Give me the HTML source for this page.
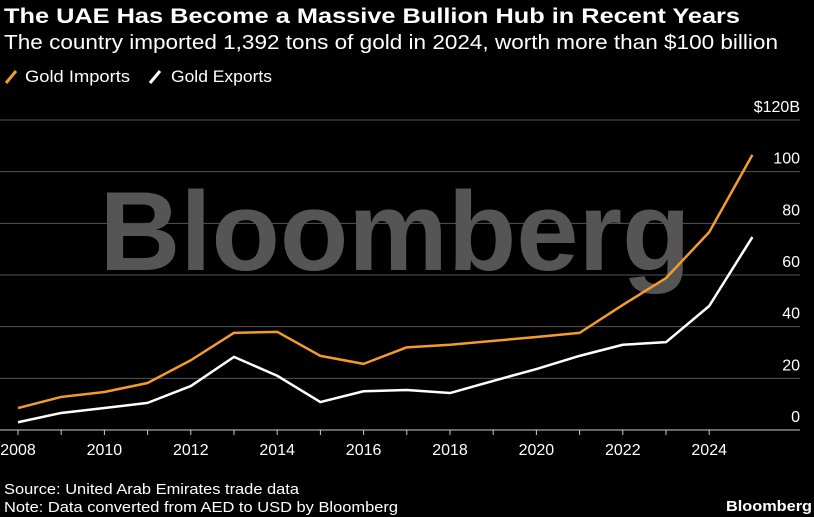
<!DOCTYPE html>
<html><head><meta charset="utf-8">
<style>
body{margin:0;background:#000;width:814px;height:517px;overflow:hidden;font-family:"Liberation Sans",sans-serif;color:#fff}
svg{position:absolute;left:0;top:0}
</style></head>
<body>
<svg width="814" height="517" id="svg">
<text x="4" y="23" font-size="21" font-weight="bold" fill="#fff" textLength="736" lengthAdjust="spacingAndGlyphs">The UAE Has Become a Massive Bullion Hub in Recent Years</text>
<text x="4" y="49" font-size="20" fill="#fff" textLength="774" lengthAdjust="spacingAndGlyphs">The country imported 1,392 tons of gold in 2024, worth more than $100 billion</text>
<g>
<line x1="6" y1="83" x2="16" y2="71" stroke="#f39c2b" stroke-width="3"/>
<text x="25" y="82" font-size="17" fill="#fff" textLength="105" lengthAdjust="spacingAndGlyphs">Gold Imports</text>
<line x1="150" y1="83" x2="160" y2="71" stroke="#fff" stroke-width="3"/>
<text x="171" y="82" font-size="17" fill="#fff" textLength="101" lengthAdjust="spacingAndGlyphs">Gold Exports</text>
</g>
<text x="395" y="270" font-size="112" font-weight="bold" fill="#555" text-anchor="middle">Bloomberg</text>
<g id="grid"></g><g id="xaxis"></g><g id="lines"></g>
<text x="4" y="494" font-size="15" fill="#fff" textLength="295" lengthAdjust="spacingAndGlyphs">Source: United Arab Emirates trade data</text>
<text x="4" y="512" font-size="15" fill="#fff" textLength="394" lengthAdjust="spacingAndGlyphs">Note: Data converted from AED to USD by Bloomberg</text>
<text x="812" y="511" font-size="15" font-weight="bold" fill="#fff" text-anchor="end" textLength="86" lengthAdjust="spacingAndGlyphs">Bloomberg</text>
</svg>
<script>
const years=[2008,2009,2010,2011,2012,2013,2014,2015,2016,2017,2018,2019,2020,2021,2022,2023,2024,2025];
const imports=[8.5,12.8,14.7,18.2,27,37.6,38,28.7,25.6,32,33,34.5,36,37.6,48.4,58.8,76.6,106.5];
const exportsV=[3,6.6,8.5,10.5,17,28.3,21,10.8,15,15.5,14.3,19,23.6,28.7,33,34,48,74.7];
const yTicks=[0,20,40,60,80,100,120];
const xTicks=[2008,2010,2012,2014,2016,2018,2020,2022,2024];
const NS="http://www.w3.org/2000/svg";
const X=y=>18+(y-2008)*43.2;
const Y=v=>430-v*(310/120);
function mk(t,a,p){const e=document.createElementNS(NS,t);for(const k in a)e.setAttribute(k,a[k]);p.appendChild(e);return e;}
const grid=document.getElementById('grid');
yTicks.forEach(v=>{
 const l=mk('line',{x1:0,x2:800,y1:Y(v),y2:Y(v),stroke:v===0?'#ccc':'#555','stroke-width':1},grid);
 
 
 const t=mk('text',{x:800,y:Y(v)-8,'font-size':16,fill:'#fff','text-anchor':'end'},grid);
 t.textContent=v===120?'$120B':v;
 
 
});
const xa=document.getElementById('xaxis');
years.slice(0,17).forEach(y=>{
 const l=mk('line',{x1:X(y),x2:X(y),y1:430,y2:435,stroke:'#ccc'},xa);
 
 
});
xTicks.forEach(y=>{
 const t=mk('text',{x:X(y),y:455,'font-size':16,fill:'#fff','text-anchor':'middle'},xa);
 t.textContent=y;
 
 
});
const lg=document.getElementById('lines');
function series(vals,color,name){
 const p=mk('polyline',{points:vals.map((v,i)=>X(years[i])+','+Y(v)).join(' '),fill:'none',stroke:color,'stroke-width':2.5,'stroke-linejoin':'round'},lg);
 
 
}
series(exportsV,'#fff','gold-exports-line');
series(imports,'#f39c2b','gold-imports-line');
</script>
</body></html>
